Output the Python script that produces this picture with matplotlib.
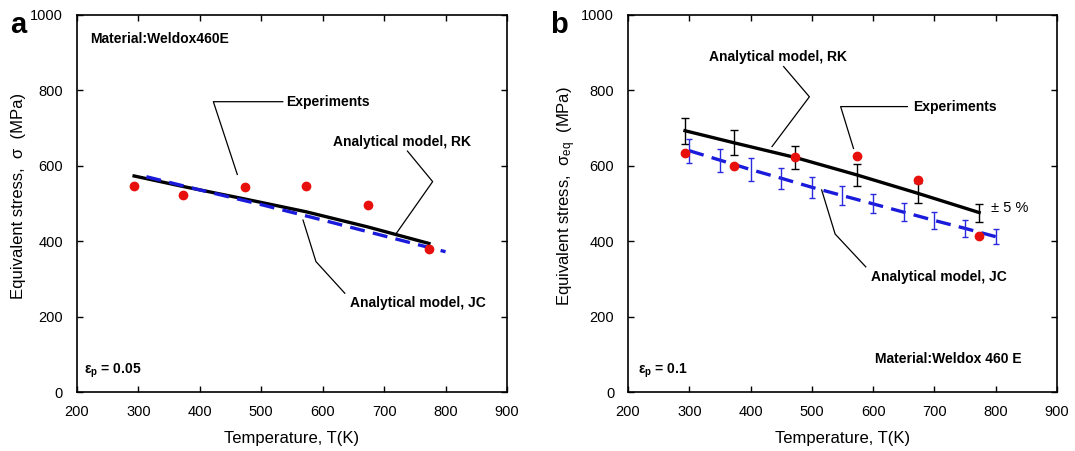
import matplotlib
matplotlib.use('Agg')
import matplotlib.pyplot as plt
import numpy as np

plt.rcParams['font.family'] = ['Liberation Sans', 'DejaVu Sans']
plt.rcParams['mathtext.fontset'] = 'custom'
plt.rcParams['mathtext.rm'] = 'Liberation Sans'
plt.rcParams['mathtext.it'] = 'Liberation Sans:italic'
plt.rcParams['mathtext.bf'] = 'Liberation Sans:bold'

# panel a: eps_p = 0.05
T_exp = [293, 373, 473, 573, 673, 773]
exp_a = [546, 522, 543, 546, 496, 380]
rk_a = [573, 545, 512, 478, 438, 394]
T_jc_a = [313, 400, 500, 600, 700, 800]
jc_a = [571, 536, 497, 456, 414, 372]

# panel b: eps_p = 0.1
exp_b = [633, 600, 622, 627, 562, 415]
rk_b = [693, 661, 622, 576, 527, 476]
T_jc_b = [300, 350, 400, 450, 500, 550, 600, 650, 700, 750, 800]
jc_b = [640, 615, 590, 567, 543, 521, 499, 477, 455, 434, 412]
err = 0.05

fig = plt.figure(figsize=(10.75, 4.51), dpi=100)
ax1 = fig.add_axes([0.0716, 0.1308, 0.400, 0.836])
ax2 = fig.add_axes([0.5842, 0.1308, 0.399, 0.836])

for ax in (ax1, ax2):
    ax.set_xlim(200, 900)
    ax.set_ylim(0, 1000)
    ax.set_xticks(np.arange(200, 901, 100))
    ax.set_yticks(np.arange(0, 1001, 200))
    ax.tick_params(direction='in', top=True, right=True, length=4, width=1,
                   labelsize=10.5)
    ax.tick_params(axis='x', pad=9)
    ax.tick_params(axis='y', pad=10)
    ax.set_xlabel('Temperature, T(K)', fontsize=12, labelpad=9)
    for s in ax.spines.values():
        s.set_linewidth(1.2)

# ---- panel a ----
ax1.plot(T_exp, rk_a, color='black', lw=2.4, zorder=3)
ax1.plot(T_jc_a, jc_a, color='#1a1adb', lw=2.4, ls=(0, (4.5, 2.5)), zorder=4)
ax1.plot(T_exp, exp_a, 'o', color='#e8100c', ms=6, zorder=5)
ax1.set_ylabel('Equivalent stress,  σ  (MPa)', fontsize=12, labelpad=3, y=0.52)

bold = dict(fontsize=10, fontweight='bold')
ax1.text(222, 935, 'Material:Weldox460E', va='center', **bold)
ax1.text(212, 56, r'$\mathbf{\varepsilon}_\mathbf{p}$ = 0.05', va='center', **bold)
ax1.plot([535, 422, 461], [770, 770, 577], color='black', lw=0.9)
ax1.text(540, 770, 'Experiments', va='center', **bold)
ax1.plot([738, 779, 720], [639, 558, 421], color='black', lw=0.9)
ax1.text(617, 664, 'Analytical model, RK', va='center', **bold)
ax1.plot([636, 589, 568], [262, 346, 456], color='black', lw=0.9)
ax1.text(644, 237, 'Analytical model, JC', va='center', **bold)

# ---- panel b ----
rk_b_arr = np.array(rk_b)
jc_b_arr = np.array(jc_b)
ax2.plot(T_exp, rk_b, color='black', lw=2.4, zorder=3)
ax2.errorbar(T_exp, rk_b, yerr=err * rk_b_arr, fmt='none', ecolor='black',
             elinewidth=1.0, capsize=3, capthick=1.0, zorder=3)
ax2.plot(T_jc_b, jc_b, color='#1a1adb', lw=2.4, ls=(0, (4.5, 2.5)), zorder=4)
ax2.errorbar(T_jc_b, jc_b, yerr=err * jc_b_arr, fmt='none', ecolor='#2a2ae0',
             elinewidth=1.0, capsize=2.5, capthick=1.0, zorder=4)
ax2.plot(T_exp, exp_b, 'o', color='#e8100c', ms=6, zorder=5)
ax2.set_ylabel(r'Equivalent stress,  σ$_\mathrm{eq}$  (MPa)', fontsize=12,
               labelpad=2, y=0.52)

ax2.text(603, 87, 'Material:Weldox 460 E', va='center', **bold)
ax2.text(217, 56, r'$\mathbf{\varepsilon}_\mathbf{p}$ = 0.1', va='center', **bold)
ax2.plot([454, 496, 435], [863, 783, 651], color='black', lw=0.9)
ax2.text(332, 888, 'Analytical model, RK', va='center', **bold)
ax2.plot([656, 547, 568], [757, 757, 646], color='black', lw=0.9)
ax2.text(665, 755, 'Experiments', va='center', **bold)
ax2.plot([588, 538, 516], [332, 419, 536], color='black', lw=0.9)
ax2.text(596, 304, 'Analytical model, JC', va='center', **bold)
ax2.text(793, 487, '± 5 %', va='center', fontsize=10.5)

fig.text(0.009, 0.927, 'a', fontsize=21, fontweight='bold', va='baseline')
fig.text(0.512, 0.927, 'b', fontsize=21, fontweight='bold', va='baseline')

fig.savefig('out.png', dpi=100)
